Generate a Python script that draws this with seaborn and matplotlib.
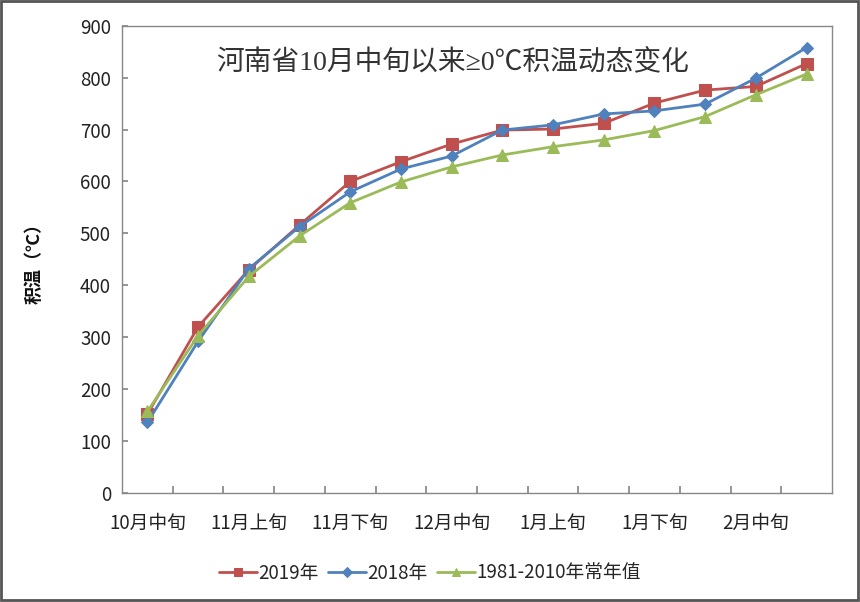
import matplotlib
matplotlib.use("Agg")
import matplotlib.pyplot as plt
import seaborn as sns
import pandas as pd
from matplotlib.patches import Rectangle

categories = ["10月中旬", "10月下旬", "11月上旬", "11月中旬", "11月下旬", "12月上旬", "12月中旬",
              "12月下旬", "1月上旬", "1月中旬", "1月下旬", "2月上旬", "2月中旬", "2月下旬"]
tick_labels = ["10月中旬", "11月上旬", "11月下旬", "12月中旬", "1月上旬", "1月下旬", "2月中旬"]
y2019 = [152, 320, 430, 516, 600, 638, 672, 699, 701, 712, 751, 776, 783, 827]
y2018 = [136, 292, 432, 513, 580, 624, 649, 699, 709, 730, 736, 749, 799, 858]
ynorm = [157, 303, 417, 495, 559, 599, 628, 651, 667, 680, 698, 725, 767, 807]
series_names = ["2019年", "2018年", "1981-2010年常年值"]

sns.set_theme(style="white")
plt.rcParams['font.family'] = ['Noto Sans CJK SC', 'DejaVu Sans']

rows = []
for name, vals in zip(series_names, [y2019, y2018, ynorm]):
    for i, v in enumerate(vals):
        rows.append({"idx": i, "cat": categories[i], "value": v, "series": name})
df = pd.DataFrame(rows)

fig = plt.figure(figsize=(8.6, 6.02), dpi=100)
ax = fig.add_axes([0.1419, 0.1811, 0.8255, 0.7762])

palette = {"2019年": "#C0504D", "2018年": "#4F81BD", "1981-2010年常年值": "#9BBB59"}
markers = {"2019年": "s", "2018年": "D", "1981-2010年常年值": "^"}
msize = {"2019年": 8, "2018年": 6.5, "1981-2010年常年值": 8.5}
for name in series_names:
    sub = df[df["series"] == name]
    sns.lineplot(data=sub, x="idx", y="value", ax=ax, color=palette[name],
                 marker=markers[name], markersize=msize[name], markeredgecolor=palette[name],
                 linewidth=2.0, label=name)

ax.set_xlim(-0.5, len(categories) - 0.5)
ax.set_ylim(0, 900)
ax.set_yticks(range(0, 901, 100))
ax.tick_params(axis="y", direction="in", length=4, color="#888888", labelsize=13.5, pad=8,
               labelcolor="#222222", left=True)
boundaries = [i + 0.5 for i in range(len(categories) - 1)]
ax.set_xticks(boundaries)
ax.set_xticklabels([""] * len(boundaries))
ax.set_xticks(list(range(0, len(categories), 2)), minor=True)
ax.set_xticklabels(tick_labels, minor=True)
ax.tick_params(axis="x", which="major", direction="in", length=5, color="#888888", bottom=True)
ax.tick_params(axis="x", which="minor", length=0, labelsize=13.5, pad=14, labelcolor="#222222")
ax.set_xlabel("")
ax.set_ylabel("积温（℃）", fontsize=13, fontweight="bold", labelpad=26, color="#111111",
              family=['Liberation Serif', 'Noto Sans CJK SC'])
for s in ax.spines.values():
    s.set_color("#888888")
    s.set_linewidth(1.0)

ax.text(0.465, 0.92, "河南省10月中旬以来≥0℃积温动态变化", transform=ax.transAxes,
        ha="center", va="center", fontsize=20, color="#333333",
        family=['Liberation Serif', 'Noto Sans CJK SC'])

handles, labels = ax.get_legend_handles_labels()
ax.get_legend().remove()
fig.legend(handles, labels, loc="center", bbox_to_anchor=(0.5, 0.048), ncol=3, frameon=False,
           fontsize=13.5, handlelength=2.0, handletextpad=0.1, columnspacing=0.5, markerscale=0.75)

fig.patches.append(Rectangle((0.001, 0.003), 0.997, 0.995, transform=fig.transFigure,
                             fill=False, edgecolor="#555555", linewidth=2))

fig.savefig("out.png", dpi=100)
